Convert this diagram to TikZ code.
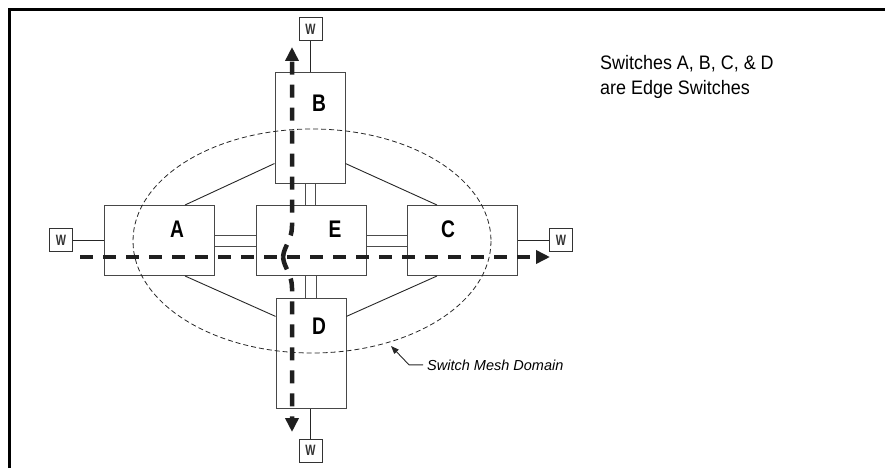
\documentclass[tikz,border=0pt]{standalone}
\usepackage{fontspec}
\setmainfont{Liberation Sans}
\newfontfamily\condfont[FakeStretch=0.8]{Liberation Sans}
\newfontfamily\wfont[FakeStretch=0.72]{Liberation Sans}
\newfontfamily\notefont[FakeStretch=0.92]{Liberation Sans}
\usetikzlibrary{arrows.meta,calc}
\begin{document}
\begin{tikzpicture}[x=1pt,y=-1pt,
  swbox/.style={draw=black!72, line width=1pt, inner sep=0pt, minimum width=110pt, minimum height=70pt},
  vbox/.style={draw=black!72, line width=1pt, inner sep=0pt, minimum width=70pt, minimum height=110pt},
  wbox/.style={draw=black!80, line width=1pt, inner sep=0pt, minimum size=23pt, text=black!80, font=\wfont\bfseries\fontsize{15}{15}\selectfont},
  lbl/.style={inner sep=0pt, font=\condfont\bfseries\fontsize{24}{24}\selectfont},
  link/.style={draw=black!85, line width=0.9pt},
  dbl/.style={draw=black!70, line width=0.9pt},
  flow/.style={draw=black!88, line width=4.5pt, dash pattern=on 13pt off 10pt, -{Triangle[length=14pt,width=13pt]}},
  mesh/.style={draw=black!85, line width=0.8pt, dash pattern=on 5pt off 3pt}]
\useasboundingbox (0,0) rectangle (885,468);
% frame
\coordinate (F1) at (9.5,468);
\coordinate (F2) at (9.5,9.5);
\coordinate (F3) at (885,9.5);
\draw[line width=3pt] (F1) -- (F2) -- (F3);
% switches
\node[swbox] (A) at (159.5,240.5) {};
\node[swbox] (E) at (311,240.5) {};
\node[swbox] (C) at (462.5,240.5) {};
\node[vbox] (B) at (310,128) {};
\node[vbox] (D) at (311,353) {};
\node[lbl] (Al) at (177,229) {A};
\node[lbl] (El) at (335,229) {E};
\node[lbl] (Cl) at (448,229) {C};
\node[lbl] (Bl) at (319,103) {B};
\node[lbl] (Dl) at (319,326) {D};
% workstations
\node[wbox] (Wt) at (310.5,29.5) {W};
\node[wbox] (Wl) at (61,240) {W};
\node[wbox] (Wr) at (561,240) {W};
\node[wbox] (Wb) at (310.5,450.5) {W};
\draw[link] (Wt) -- (Wt |- B.north);
\draw[link] (Wl) -- (Wl -| A.west);
\draw[link] (Wr) -- (Wr -| C.east);
\draw[link] (Wb) -- (Wb |- D.south);
% mesh diagonals
\draw[link] ($(B.south west)!0.18!(B.north west)$) -- ($(A.north west)!0.73!(A.north east)$);
\draw[link] ($(B.south east)!0.18!(B.north east)$) -- ($(C.north west)!0.27!(C.north east)$);
\draw[link] ($(A.south west)!0.73!(A.south east)$) -- ($(D.north west)!0.17!(D.south west)$);
\draw[link] ($(D.north east)!0.17!(D.south east)$) -- ($(C.south west)!0.27!(C.south east)$);
% double links
\draw[dbl] ([yshift=5.5pt]A.east) -- ([yshift=5.5pt]E.west);
\draw[dbl] ([yshift=-5.5pt]A.east) -- ([yshift=-5.5pt]E.west);
\draw[dbl] ([yshift=5.5pt]E.east) -- ([yshift=5.5pt]C.west);
\draw[dbl] ([yshift=-5.5pt]E.east) -- ([yshift=-5.5pt]C.west);
\draw[dbl] ([xshift=-5pt]B.south) -- ([xshift=-5pt]B.south |- E.north);
\draw[dbl] ([xshift=5pt]B.south) -- ([xshift=5pt]B.south |- E.north);
\draw[dbl] ([xshift=-5.5pt]E.south) -- ([xshift=-5.5pt]E.south |- D.north);
\draw[dbl] ([xshift=5.5pt]E.south) -- ([xshift=5.5pt]E.south |- D.north);
% mesh domain
\draw[mesh] (312,241) ellipse [x radius=179, y radius=112];
\node[inner sep=0pt, anchor=base west, font=\itshape\fontsize{14.5}{14.5}\selectfont] (ML) at (427,370) {Switch Mesh Domain};
\coordinate (MT) at (391,346);
\draw[draw=black!85, line width=0.9pt, -{Triangle[length=8pt,width=6pt]}] ([xshift=-4pt]ML.west) -- ++(-14,0) -- (MT);
% flows
\coordinate (Ls) at (80,257);
\coordinate (Rt) at (550,257);
\coordinate (J) at (283,257);
\coordinate (Tt) at (292,47);
\coordinate (Bt) at (292,432);
\draw[flow] (Ls) -- (Rt);
\draw[flow] (J) .. controls (284,246) and (292,240) .. (292,226) -- (Tt);
\draw[flow] (J) .. controls (284,268) and (292,274) .. (292,288) -- (Bt);
% note
\node[inner sep=0pt, anchor=base west, font=\notefont\fontsize{19.5}{19.5}\selectfont] (N1) at (600,70) {Switches A, B, C, \& D};
\node[inner sep=0pt, anchor=base west, font=\notefont\fontsize{19.5}{19.5}\selectfont] (N2) at (600,95) {are Edge Switches};
\end{tikzpicture}
\end{document}
